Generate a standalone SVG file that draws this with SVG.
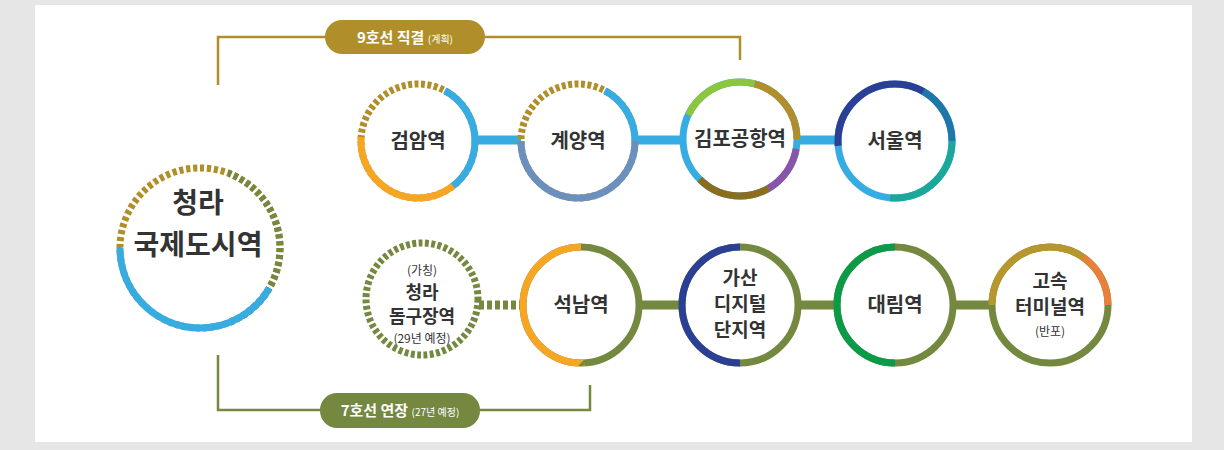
<svg xmlns="http://www.w3.org/2000/svg" width="1224" height="450" viewBox="0 0 1224 450">
<style>
.r{fill:none;stroke-width:7}
.w{fill:#fff;stroke:none}
.t{font-family:"Noto Sans CJK KR","Noto Sans",sans-serif;font-weight:700;fill:#333;text-anchor:middle}
.s{font-family:"Noto Sans CJK KR","Noto Sans",sans-serif;font-weight:400;fill:#333;text-anchor:middle;font-size:12px}
.p{font-family:"Noto Sans CJK KR","Noto Sans",sans-serif;font-weight:700;fill:#fff;text-anchor:middle}
</style>
<defs><clipPath id="cr"><rect x="228" y="150" width="80" height="200"/></clipPath></defs>
<rect width="1224" height="450" fill="#e6e6e6"/>
<rect x="35" y="5" width="1157" height="437" fill="#fff"/>
<g id="connectors">
<polyline points="218,85 218,37 740,37 740,60" fill="none" stroke="#b08f2a" stroke-width="2.5"/>
<polyline points="218,355 218,410 590,410 590,385" fill="none" stroke="#74883f" stroke-width="2.5"/>
<line x1="470" y1="140" x2="900" y2="140" stroke="#37ace2" stroke-width="9"/>
<line x1="479" y1="305" x2="525" y2="305" stroke="#74883f" stroke-width="9" stroke-dasharray="5 3"/>
<line x1="630" y1="305" x2="1010" y2="305" stroke="#74883f" stroke-width="9"/>
</g>
<g id="line9"><rect x="325" y="20" width="160" height="34" rx="17" fill="#b08f2a"/><text x="405" y="43" class="p" font-size="15">9호선 직결 <tspan font-size="10" font-weight="400">(계획)</tspan></text></g>
<g id="line7"><rect x="320" y="393" width="160" height="35" rx="17" fill="#74883f"/><text x="400" y="416" class="p" font-size="15">7호선 연장 <tspan font-size="10" font-weight="400">(27년 예정)</tspan></text></g>
<g id="cheongna">
<circle cx="200" cy="248" r="80" class="w"/>
<circle cx="200" cy="248" r="80" class="r" stroke="#b08f2a" pathLength="360" stroke-dasharray="3 2"/>
<circle cx="200" cy="248" r="80" class="r" stroke="#74883f" pathLength="360" stroke-dasharray="3 2" clip-path="url(#cr)"/>
<circle cx="200" cy="248" r="80" class="r" stroke="#37ace2" pathLength="360" stroke-dasharray="150 360" stroke-dashoffset="-30"/>
<text x="198" y="213" class="t" font-size="28">청라</text><text x="198" y="255" class="t" font-size="28">국제도시역</text>
</g>
<g id="geomam">
<circle cx="418" cy="141" r="57" class="w"/>
<circle cx="418" cy="141" r="57" class="r" stroke="#b08f2a" pathLength="360" stroke-dasharray="4 2.5"/>
<circle cx="418" cy="141" r="57" class="r" stroke="#37ace2" pathLength="360" stroke-dasharray="115 360" stroke-dashoffset="-298"/>
<circle cx="418" cy="141" r="57" class="r" stroke="#37ace2" pathLength="360" stroke-dasharray="53 360" stroke-dashoffset="0"/>
<circle cx="418" cy="141" r="57" class="r" stroke="#f6a623" pathLength="360" stroke-dasharray="132 360" stroke-dashoffset="-52"/>
<text x="418" y="148" class="t" font-size="20">검암역</text>
</g>
<g id="gyeyang">
<circle cx="578" cy="141" r="57" class="w"/>
<circle cx="578" cy="141" r="57" class="r" stroke="#b08f2a" pathLength="360" stroke-dasharray="4 2.5"/>
<circle cx="578" cy="141" r="57" class="r" stroke="#37ace2" pathLength="360" stroke-dasharray="62 360" stroke-dashoffset="-298"/>
<circle cx="578" cy="141" r="57" class="r" stroke="#6b90bd" pathLength="360" stroke-dasharray="180 360" stroke-dashoffset="0"/>
<text x="578" y="148" class="t" font-size="20">계양역</text>
</g>
<g id="gimpo">
<circle cx="740" cy="139" r="57" class="w"/>
<circle cx="740" cy="139" r="57" class="r" stroke="#37ace2"/>
<circle cx="740" cy="139" r="57" class="r" stroke="#8cc63f" pathLength="360" stroke-dasharray="80 360" stroke-dashoffset="-205"/>
<circle cx="740" cy="139" r="57" class="r" stroke="#b08f2a" pathLength="360" stroke-dasharray="85 360" stroke-dashoffset="-285"/>
<circle cx="740" cy="139" r="57" class="r" stroke="#8a55a8" pathLength="360" stroke-dasharray="50 360" stroke-dashoffset="-10"/>
<circle cx="740" cy="139" r="57" class="r" stroke="#8b6d1e" pathLength="360" stroke-dasharray="75 360" stroke-dashoffset="-60"/>
<text x="740" y="146" class="t" font-size="20">김포공항역</text>
</g>
<g id="seoul">
<circle cx="895" cy="141" r="57" class="w"/>
<circle cx="895" cy="141" r="57" class="r" stroke="#37ace2"/>
<circle cx="895" cy="141" r="57" class="r" stroke="#2b3f94" pathLength="360" stroke-dasharray="125 360" stroke-dashoffset="-175"/>
<circle cx="895" cy="141" r="57" class="r" stroke="#1d77a8" pathLength="360" stroke-dasharray="60 360" stroke-dashoffset="-300"/>
<circle cx="895" cy="141" r="57" class="r" stroke="#1ba89a" pathLength="360" stroke-dasharray="95 360" stroke-dashoffset="0"/>
<text x="895" y="148" class="t" font-size="20">서울역</text>
</g>
<g id="dome">
<circle cx="422" cy="299" r="56" class="w"/>
<circle cx="422" cy="299" r="56" class="r" stroke="#74883f" pathLength="360" stroke-dasharray="4 2.5"/>
<text x="422" y="275" class="s">(가칭)</text>
<text x="422" y="299" class="t" font-size="18">청라</text>
<text x="422" y="323" class="t" font-size="18">돔구장역</text>
<text x="422" y="343" class="s">(29년 예정)</text>
</g>
<g id="seoknam">
<circle cx="581" cy="305" r="58" class="w"/>
<circle cx="581" cy="305" r="58" class="r" stroke="#74883f"/>
<circle cx="581" cy="305" r="58" class="r" stroke="#f6a623" pathLength="360" stroke-dasharray="180 360" stroke-dashoffset="-90"/>
<text x="581" y="312" class="t" font-size="20">석남역</text>
</g>
<g id="gasan">
<circle cx="740" cy="305" r="58" class="w"/>
<circle cx="740" cy="305" r="58" class="r" stroke="#74883f"/>
<circle cx="740" cy="305" r="58" class="r" stroke="#2b3f94" pathLength="360" stroke-dasharray="180 360" stroke-dashoffset="-90"/>
<text x="740" y="285" class="t" font-size="19">가산</text>
<text x="740" y="311" class="t" font-size="19">디지털</text>
<text x="740" y="337" class="t" font-size="19">단지역</text>
</g>
<g id="daerim">
<circle cx="895" cy="305" r="58" class="w"/>
<circle cx="895" cy="305" r="58" class="r" stroke="#74883f"/>
<circle cx="895" cy="305" r="58" class="r" stroke="#0a9a48" pathLength="360" stroke-dasharray="180 360" stroke-dashoffset="-90"/>
<text x="895" y="312" class="t" font-size="20">대림역</text>
</g>
<g id="express">
<circle cx="1050" cy="305" r="58" class="w"/>
<circle cx="1050" cy="305" r="58" class="r" stroke="#74883f"/>
<circle cx="1050" cy="305" r="58" class="r" stroke="#b8962e" pathLength="360" stroke-dasharray="125 360" stroke-dashoffset="-180"/>
<circle cx="1050" cy="305" r="58" class="r" stroke="#e8803a" pathLength="360" stroke-dasharray="95 360" stroke-dashoffset="-305"/>
<text x="1050" y="288" class="t" font-size="19">고속</text>
<text x="1050" y="314" class="t" font-size="19">터미널역</text>
<text x="1050" y="336" class="s">(반포)</text>
</g>
</svg>
